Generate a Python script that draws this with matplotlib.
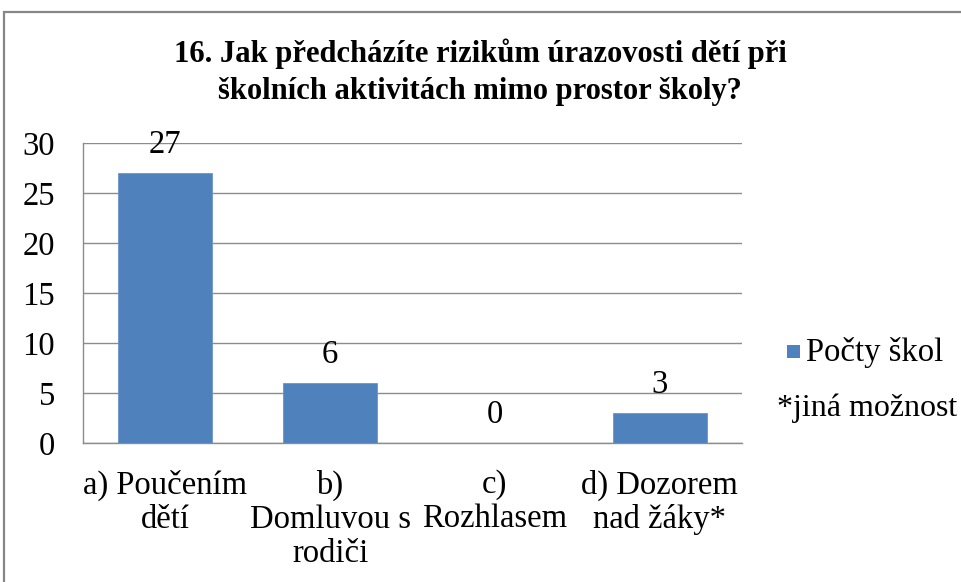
import matplotlib
matplotlib.use("Agg")
import matplotlib.pyplot as plt
from matplotlib.patches import Rectangle

categories = ["a) Poučením\ndětí", "b)\nDomluvou s\nrodiči", "c)\nRozhlasem", "d) Dozorem\nnad žáky*"]
values = [27, 6, 0, 3]
series_name = "Počty škol"
note = "*jiná možnost"
title = "16. Jak předcházíte rizikům úrazovosti dětí při\nškolních aktivitách mimo prostor školy?"
yticks = [0, 5, 10, 15, 20, 25, 30]

plt.rcParams['font.family'] = ['Liberation Serif', 'DejaVu Serif']

W, H = 962, 582
fig = plt.figure(figsize=(W / 100, H / 100), dpi=100)
fig.patch.set_facecolor('white')

# outer border
fig.patches.append(Rectangle((4 / W, -0.1), 1.2, (H - 12) / H + 0.1, transform=fig.transFigure,
                             fill=False, edgecolor='#878787', linewidth=1.6))

FS = 23.5
ax = fig.add_axes([83 / W, 1 - 443 / H, (742 - 83) / W, (443 - 143) / H])
x = list(range(len(categories)))
bar_color = '#4F81BD'
ax.bar(x, values, width=0.57, color=bar_color, edgecolor='#6A95C9', linewidth=0.6, zorder=3)
ax.set_xlim(-0.5, len(categories) - 0.5)
ax.set_ylim(0, 30)
ax.set_yticks(yticks)
ax.yaxis.grid(True, color='#8C8C8C', linewidth=1.0, zorder=0)
ax.set_axisbelow(True)
for s in ['top', 'right']:
    ax.spines[s].set_visible(False)
for s in ['left', 'bottom']:
    ax.spines[s].set_color('#8C8C8C')
    ax.spines[s].set_linewidth(1.0)
ax.tick_params(axis='y', length=0, pad=20, labelsize=FS)
ax.tick_params(axis='x', length=0, pad=19, labelsize=FS)
ax.set_xticks(x)
ax.set_xticklabels(categories, linespacing=1.15, va='top', ha='center')

for xi, v in zip(x, values):
    ax.annotate(str(v), (xi, v), xytext=(0, 20), textcoords='offset points',
                ha='center', va='center', fontsize=FS)

fig.text(480 / W, 1 - 72 / H, title, ha='center', va='center', fontsize=22,
         fontweight='bold', linespacing=1.38)

# legend
fig.patches.append(Rectangle((787 / W, 1 - 358 / H), 13 / W, 13 / H, transform=fig.transFigure,
                             facecolor=bar_color, edgecolor='none'))
fig.text(806 / W, 1 - 352 / H, series_name, ha='left', va='center', fontsize=FS)
fig.text(777 / W, 1 - 408 / H, note, ha='left', va='center', fontsize=23)

fig.savefig('out.png', dpi=100)
